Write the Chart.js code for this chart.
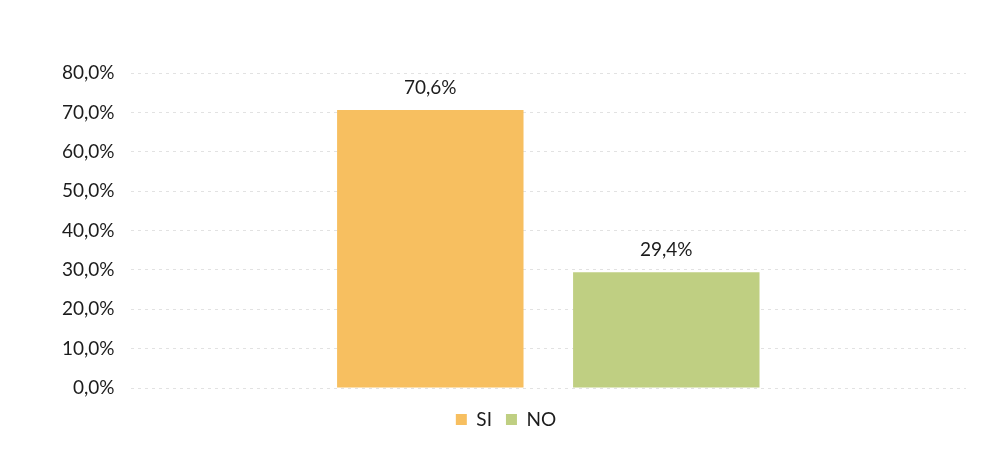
<!DOCTYPE html>
<html>
<head>
<meta charset="utf-8">
<script src="https://cdn.jsdelivr.net/npm/chart.js@4"></script>
<style>
  body { margin: 0; background: #fff; }
  #wrap { width: 982px; height: 453px; position: relative; }
</style>
</head>
<body>
<div id="wrap"><canvas id="chart"></canvas></div>
<script>
// answers and their share (%)
const answers = ['SI', 'NO']
const shares = [70.6, 29.4]
const yTicks = [0, 10, 20, 30, 40, 50, 60, 70, 80]

const barColors = ['#F7BF60', '#BFCF82']

function pct(v) {
  return v.toFixed(1).replace('.', ',') + '%'
}

// draw the value above each bar
const valueLabels = {
  id: 'valueLabels',
  afterDatasetsDraw(chart) {
    const ctx = chart.ctx
    ctx.save()
    ctx.font = '19px Lato'
    ctx.fillStyle = '#1c1c1c'
    ctx.textAlign = 'center'
    ctx.textBaseline = 'bottom'
    chart.data.datasets.forEach((ds, i) => {
      chart.getDatasetMeta(i).data.forEach((bar, j) => {
        ctx.fillText(pct(ds.data[j]), bar.x, bar.y - 13)
      })
    })
    ctx.restore()
  }
}

const datasets = answers.map((name, i) => ({
  label: name,
  data: [shares[i]],
  backgroundColor: barColors[i],
  categoryPercentage: 0.565,
  barPercentage: 0.79
}))

new Chart(document.getElementById('chart'), {
  type: 'bar',
  data: { labels: [''], datasets: datasets },
  options: {
    responsive: true,
    maintainAspectRatio: false,
    animation: false,
    layout: { padding: { top: 73, right: 16, left: 46, bottom: 14 } },
    plugins: {
      legend: {
        position: 'bottom',
        labels: {
          boxWidth: 11, boxHeight: 11, padding: 14,
          color: '#1c1c1c',
          font: { family: 'Lato', size: 19 }
        }
      },
      tooltip: { enabled: false }
    },
    scales: {
      x: {
        grid: { display: false },
        border: { display: false },
        ticks: { display: false }
      },
      y: {
        min: 0, max: 80,
        afterBuildTicks(axis) { axis.ticks = yTicks.map(v => ({ value: v })) },
        grid: { color: '#e2e2e2', drawTicks: false },
        border: { display: false, dash: [3, 4] },
        ticks: {
          padding: 16,
          color: '#1c1c1c',
          font: { family: 'Lato', size: 19 },
          callback: v => pct(v)
        }
      }
    }
  },
  plugins: [valueLabels]
})
</script>
</body>
</html>
